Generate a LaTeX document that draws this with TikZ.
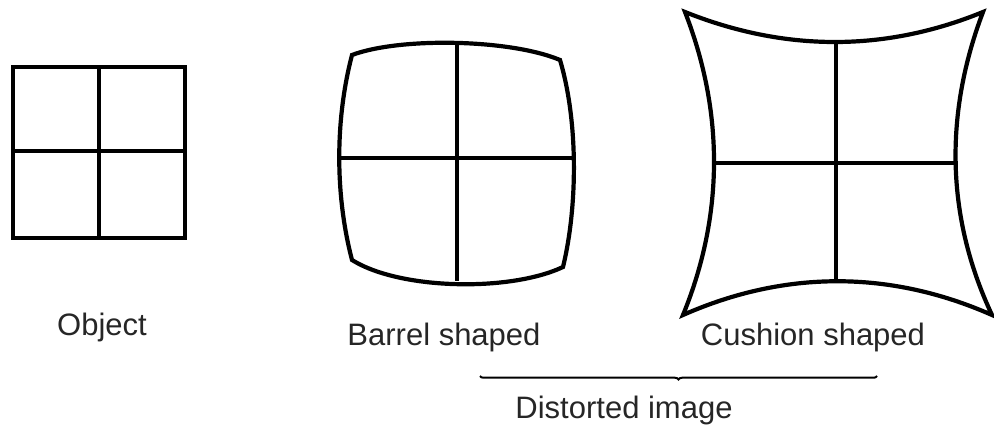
\documentclass[tikz,border=0pt]{standalone}
\usepackage{fontspec}
\setmainfont{Liberation Sans}
\usetikzlibrary{decorations.pathreplacing}
\begin{document}
\begin{tikzpicture}[x=1pt,y=-1pt,
  grid/.style={line width=4.2pt,line join=miter},
  lbl/.style={font=\fontsize{31}{36}\selectfont,text=black!85,inner sep=0pt},
  bracestyle/.style={line width=2pt,decorate,decoration={brace,mirror,amplitude=3.5pt}}]
\useasboundingbox (0,0) rectangle (994,430);
% Object
\draw[grid] (13,67) rectangle (185,238);
\draw[grid] (99,67) -- (99,238);
\draw[grid] (13,151) -- (185,151);
% Barrel
\draw[grid] (352,55) .. controls (400,37) and (510,39) .. (560,60)
  .. controls (578,120) and (578,205) .. (563,267)
  .. controls (510,292) and (400,290) .. (352,260)
  .. controls (335,195) and (335,120) .. cycle;
\draw[grid] (457,43) -- (457,281);
\draw[grid] (340,158) -- (576,158);
% Cushion
\draw[grid] (685,12) .. controls (785,52) and (885,52) .. (983,12)
  .. controls (945,112) and (945,215) .. (992,315)
  .. controls (890,270) and (785,270) .. (683,315)
  .. controls (724,215) and (724,112) .. cycle;
\draw[grid] (836,43) -- (836,282);
\draw[grid] (713,163) -- (958,163);
% Labels
\node[lbl] (obj) at (102,327) {Object};
\node[lbl] (bar) at (444,337) {Barrel shaped};
\node[lbl] (cus) at (813,337) {Cushion shaped};
\coordinate (bl) at (480,376);
\coordinate (br) at (877,376);
\draw[bracestyle] (bl) -- (br);
\node[lbl] (dis) at (624,410) {Distorted image};
\end{tikzpicture}
\end{document}
